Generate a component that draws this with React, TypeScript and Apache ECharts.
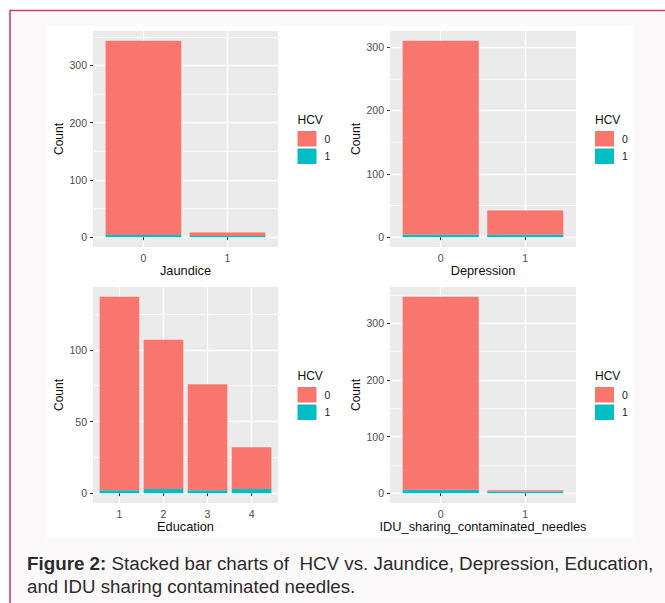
import React, { useEffect, useRef } from "react";
import * as echarts from "echarts";

// ---------- data ----------
const jaundiceCats = ["0", "1"];
const jaundiceHcv0 = [339, 6];
const jaundiceHcv1 = [4, 2];

const depressionCats = ["0", "1"];
const depressionHcv0 = [306, 38];
const depressionHcv1 = [4, 4];

const educationCats = ["1", "2", "3", "4"];
const educationHcv0 = [135, 104, 74, 29];
const educationHcv1 = [2, 3, 2, 3];

const iduCats = ["0", "1"];
const iduHcv0 = [341, 2];
const iduHcv1 = [6, 3];

const countMajorTicks300 = [0, 100, 200, 300];
const countMinorTicks350 = [50, 150, 250, 350];
const countMinorTicks250 = [50, 150, 250];
const countMajorTicks100 = [0, 50, 100];
const countMinorTicks125 = [25, 75, 125];

const legendNames = ["0", "1"];
const legendTitle = "HCV";
const yTitle = "Count";

// ---------- layout / style ----------
const FONT = "'Liberation Sans', Arial, Helvetica, sans-serif";
const RED = "#F8766D";
const CYAN = "#00BFC4";

type Panel = {
  cats: string[];
  hcv0: number[];
  hcv1: number[];
  xTitle: string;
  major: number[];
  minor: number[];
  left: number;
  top: number;
  width: number;
  height: number;
};

const panels: Panel[] = [
  { cats: jaundiceCats, hcv0: jaundiceHcv0, hcv1: jaundiceHcv1, xTitle: "Jaundice", major: countMajorTicks300, minor: countMinorTicks350, left: 93, top: 31, width: 185, height: 216 },
  { cats: depressionCats, hcv0: depressionHcv0, hcv1: depressionHcv1, xTitle: "Depression", major: countMajorTicks300, minor: countMinorTicks250, left: 390, top: 31, width: 186, height: 216 },
  { cats: educationCats, hcv0: educationHcv0, hcv1: educationHcv1, xTitle: "Education", major: countMajorTicks100, minor: countMinorTicks125, left: 93, top: 287, width: 185, height: 216 },
  { cats: iduCats, hcv0: iduHcv0, hcv1: iduHcv1, xTitle: "IDU_sharing_contaminated_needles", major: countMajorTicks300, minor: countMinorTicks350, left: 390, top: 287, width: 186, height: 216 },
];

function buildOption() {
  const grid: any[] = [];
  const xAxis: any[] = [];
  const yAxis: any[] = [];
  const series: any[] = [];
  const legend: any[] = [];
  const graphic: any[] = [
    {
      type: "rect",
      z: -10,
      silent: true,
      shape: { x: 10, y: 10.5, width: 720, height: 700 },
      style: { fill: "#fcf9fb", stroke: "#c2446d", lineWidth: 1.6 },
    },
    {
      type: "rect",
      z: -9,
      silent: true,
      shape: { x: 46, y: 26, width: 588, height: 512 },
      style: { fill: "#ffffff" },
    },
    {
      type: "text",
      z: 10,
      x: 27,
      y: 563,
      style: {
        text: "{b|Figure 2:} Stacked bar charts of  HCV vs. Jaundice, Depression, Education,",
        font: `18.8px ${FONT}`,
        fill: "#2b2b2b",
        verticalAlign: "middle",
        rich: { b: { fontWeight: "bold", fontSize: 18.8, fontFamily: FONT, fill: "#2b2b2b" } },
      },
    },
    {
      type: "text",
      z: 10,
      x: 27,
      y: 586,
      style: {
        text: "and IDU sharing contaminated needles.",
        font: `18.7px ${FONT}`,
        fill: "#2b2b2b",
        verticalAlign: "middle",
      },
    },
  ];

  panels.forEach((p, i) => {
    const n = p.cats.length;
    const totals = p.cats.map((_, k) => p.hcv0[k] + p.hcv1[k]);
    const maxT = Math.max(...totals);
    const yMin = -0.05 * maxT;
    const yMax = 1.05 * maxT;
    const band = p.width / (n + 0.2);
    const barWidth = band * 0.9;

    // outer grid: grey panel + horizontal grid lines + y labels
    const gOuter = grid.length;
    grid.push({
      left: p.left,
      top: p.top,
      width: p.width,
      height: p.height,
      show: true,
      backgroundColor: "#EBEBEB",
      borderWidth: 0,
      containLabel: false,
      outerBoundsMode: "none",
    });
    // inner grid: category centres span (first centre .. last centre)
    const gInner = grid.length;
    grid.push({
      left: p.left + 0.6 * band,
      top: p.top,
      width: (n - 1) * band,
      height: p.height,
      show: false,
      containLabel: false,
      outerBoundsMode: "none",
    });

    xAxis.push({ type: "value", gridIndex: gOuter, min: 0, max: 1, show: false });
    const xInner = xAxis.length;
    xAxis.push({
      type: "category",
      gridIndex: gInner,
      data: p.cats,
      boundaryGap: false,
      name: p.xTitle,
      nameLocation: "middle",
      nameGap: 16.5,
      nameMoveOverlap: false,
      nameTextStyle: { fontSize: 12.8, color: "#111", fontFamily: FONT },
      axisLine: { show: false },
      axisTick: { show: true, length: 3, interval: 0, lineStyle: { color: "#333", width: 1 } },
      axisLabel: {
        show: true,
        interval: 0,
        margin: 5,
        fontSize: 10.5,
        color: "#4D4D4D",
        fontFamily: FONT,
      },
      splitLine: { show: true, interval: 0, lineStyle: { color: "#ffffff", width: 1.3 } },
    });

    yAxis.push({
      type: "value",
      gridIndex: gOuter,
      min: yMin,
      max: yMax,
      position: "left",
      name: yTitle,
      nameLocation: "middle",
      nameRotate: 90,
      nameGap: 28,
      nameMoveOverlap: false,
      nameTextStyle: { fontSize: 12, color: "#111", fontFamily: FONT },
      axisLine: { show: false },
      axisTick: { show: true, customValues: p.major, length: 3, lineStyle: { color: "#333", width: 1 } },
      axisLabel: {
        show: true,
        customValues: p.major,
        margin: 6,
        fontSize: 10.5,
        color: "#4D4D4D",
        fontFamily: FONT,
      },
      splitLine: { show: true, lineStyle: { color: "#ffffff", width: 1.3 } },
    });
    yAxis.push({
      type: "value",
      gridIndex: gOuter,
      min: yMin,
      max: yMax,
      position: "left",
      axisLine: { show: false },
      axisTick: { show: false, customValues: p.minor },
      axisLabel: { show: false, customValues: p.minor },
      splitLine: { show: true, lineStyle: { color: "#ffffff", width: 0.7 } },
    });
    const yInner = yAxis.length;
    yAxis.push({
      type: "value",
      gridIndex: gInner,
      min: yMin,
      max: yMax,
      show: false,
      splitLine: { show: false },
    });

    series.push({
      type: "bar",
      name: legendNames[1],
      xAxisIndex: xInner,
      yAxisIndex: yInner,
      stack: "s" + i,
      barWidth,
      clip: false,
      data: p.hcv1,
      itemStyle: { color: CYAN },
      emphasis: { disabled: true },
    });
    series.push({
      type: "bar",
      name: legendNames[0],
      xAxisIndex: xInner,
      yAxisIndex: yInner,
      stack: "s" + i,
      barWidth,
      clip: false,
      data: p.hcv0,
      itemStyle: { color: RED },
      emphasis: { disabled: true },
    });

    const legLeft = i % 2 === 0 ? 297.5 : 595;
    const legTop = i < 2 ? 131 : 387;
    legend.push({
      data: legendNames,
      left: legLeft,
      top: legTop,
      orient: "vertical",
      icon: "rect",
      itemWidth: 19,
      itemHeight: 15.5,
      itemGap: 2,
      padding: 0,
      selectedMode: false,
      itemStyle: { borderWidth: 0 },
      textStyle: { fontSize: 10.5, color: "#1a1a1a", fontFamily: FONT, padding: [0, 0, 0, 3] },
    });
    graphic.push({
      type: "text",
      z: 10,
      x: legLeft,
      y: legTop - 11,
      style: {
        text: legendTitle,
        font: `12px ${FONT}`,
        fill: "#111",
        verticalAlign: "middle",
      },
    });
  });

  return {
    animation: false,
    backgroundColor: "#ffffff",
    textStyle: { fontFamily: FONT },
    grid,
    xAxis,
    yAxis,
    series,
    legend,
    graphic,
  };
}

export default function App() {
  const ref = useRef<HTMLDivElement>(null);
  useEffect(() => {
    if (!ref.current) return;
    const chart = echarts.init(ref.current, null, { renderer: "svg" });
    chart.setOption(buildOption() as any);
    return () => chart.dispose();
  }, []);
  return (
    <div
      ref={ref}
      style={{ position: "absolute", left: 0, top: 0, width: 665, height: 603 }}
    />
  );
}
